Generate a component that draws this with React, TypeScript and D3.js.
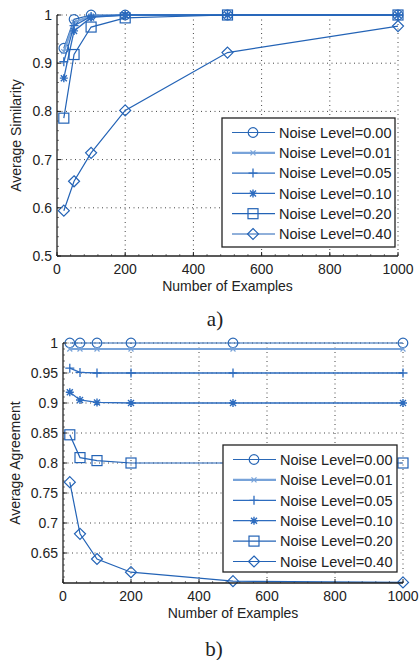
import React from 'react';
import * as d3 from 'd3';

// x values shared by both panels
const examples = [20, 50, 100, 200, 500, 1000];
const noiseLevels = ['0.00', '0.01', '0.05', '0.10', '0.20', '0.40'];

// panel a) average similarity
const sim000 = [0.931, 0.991, 1.0, 1.0, 1.0, 1.0];
const sim001 = [0.924, 0.985, 0.998, 1.0, 1.0, 1.0];
const sim005 = [0.903, 0.978, 0.997, 1.0, 1.0, 1.0];
const sim010 = [0.869, 0.967, 0.995, 1.0, 1.0, 1.0];
const sim020 = [0.786, 0.918, 0.975, 0.994, 1.0, 1.0];
const sim040 = [0.594, 0.655, 0.714, 0.802, 0.922, 0.977];

// panel b) average agreement
const agr000 = [1.0, 1.0, 1.0, 1.0, 1.0, 1.0];
const agr001 = [0.99, 0.99, 0.99, 0.99, 0.99, 0.99];
const agr005 = [0.958, 0.951, 0.95, 0.95, 0.95, 0.95];
const agr010 = [0.918, 0.905, 0.901, 0.9, 0.9, 0.9];
const agr020 = [0.847, 0.809, 0.804, 0.8, 0.8, 0.8];
const agr040 = [0.768, 0.682, 0.64, 0.618, 0.603, 0.601];

const xTicks = [0, 200, 400, 600, 800, 1000];
const simTicks = [0.5, 0.6, 0.7, 0.8, 0.9, 1];
const agrTicks = [0.65, 0.7, 0.75, 0.8, 0.85, 0.9, 0.95, 1];

const markers = ['circle', 'x', 'plus', 'star', 'square', 'diamond'];
const colors = ['#2a68b6', '#78a3d9', '#2d6cbf', '#2d6cbf', '#2363b6', '#2363b6'];
const widths = [1.2, 2.2, 1.3, 1.3, 1.2, 1.2];

const font = '"Liberation Sans", Arial, sans-serif';

function Marker(props) {
    var m = props.type, c = props.color, x = props.x, y = props.y;
    if (m === 'circle') return <circle cx={x} cy={y} r={4.8} fill="none" stroke={c} strokeWidth={1.2} />;
    if (m === 'square') return <rect x={x - 5} y={y - 5} width={10} height={10} fill="none" stroke={c} strokeWidth={1.2} />;
    if (m === 'diamond') return <path d={'M' + x + ',' + (y - 5.5) + 'L' + (x + 5.5) + ',' + y + 'L' + x + ',' + (y + 5.5) + 'L' + (x - 5.5) + ',' + y + 'Z'} fill="none" stroke={c} strokeWidth={1.2} />;
    if (m === 'plus') return <path d={'M' + (x - 4.5) + ',' + y + 'H' + (x + 4.5) + 'M' + x + ',' + (y - 4.5) + 'V' + (y + 4.5)} stroke={c} strokeWidth={1.3} />;
    if (m === 'x') return <path d={'M' + (x - 2.5) + ',' + (y - 2.5) + 'L' + (x + 2.5) + ',' + (y + 2.5) + 'M' + (x + 2.5) + ',' + (y - 2.5) + 'L' + (x - 2.5) + ',' + (y + 2.5)} stroke={c} strokeWidth={1.2} />;
    // star
    return <path d={'M' + (x - 4) + ',' + y + 'H' + (x + 4) + 'M' + x + ',' + (y - 4) + 'V' + (y + 4) + 'M' + (x - 3) + ',' + (y - 3) + 'L' + (x + 3) + ',' + (y + 3) + 'M' + (x + 3) + ',' + (y - 3) + 'L' + (x - 3) + ',' + (y + 3)} stroke={c} strokeWidth={1.4} />;
}

function Panel(props) {
    var x = d3.scaleLinear().domain([0, 1000]).range([props.left, props.right]);
    var y = d3.scaleLinear().domain(props.yDomain).range([props.bottom, props.top]);
    var line = d3.line().x(function (d) { return x(d[0]); }).y(function (d) { return y(d[1]); });
    var fmt = props.fmt;
    var minorX = d3.range(0, 1001, 40);
    var minorY = d3.range(props.yDomain[0], props.yDomain[1] + 1e-9, props.minorStep);
    var lg = props.legend;

    return (
        <g fontFamily={font} fill="#222">
            {/* grid */}
            {xTicks.filter(function (t) { return t > 0; }).map(function (t) {
                return <line key={'gx' + t} x1={x(t)} x2={x(t)} y1={props.top} y2={props.bottom} stroke="#444" strokeWidth={1} strokeDasharray="1,3.5" />;
            })}
            {props.yTicks.filter(function (t) { return t > props.yDomain[0]; }).map(function (t) {
                return <line key={'gy' + t} x1={props.left} x2={props.right} y1={y(t)} y2={y(t)} stroke="#444" strokeWidth={1} strokeDasharray="1,3.5" />;
            })}
            {/* minor ticks */}
            {minorX.map(function (t) {
                return <line key={'mx' + t} x1={x(t)} x2={x(t)} y1={props.bottom} y2={props.bottom - 2} stroke="#555" strokeWidth={0.8} />;
            })}
            {minorY.map(function (t, i) {
                return <line key={'my' + i} x1={props.left} x2={props.left + 2} y1={y(t)} y2={y(t)} stroke="#555" strokeWidth={0.8} />;
            })}
            {/* series */}
            {props.series.map(function (s, i) {
                var pts = examples.map(function (e, j) { return [e, s[j]]; });
                return (
                    <g key={'s' + i}>
                        <path d={line(pts)} fill="none" stroke={colors[i]} strokeWidth={widths[i]} />
                        {pts.map(function (p, j) {
                            return <Marker key={j} type={markers[i]} color={colors[i]} x={x(p[0])} y={y(p[1])} />;
                        })}
                    </g>
                );
            })}
            {/* axes */}
            <line x1={props.left} x2={props.right} y1={props.bottom} y2={props.bottom} stroke="#222" strokeWidth={1.3} />
            <line x1={props.left} x2={props.left} y1={props.top} y2={props.bottom} stroke="#222" strokeWidth={1.3} />
            {xTicks.map(function (t) {
                return (
                    <g key={'xt' + t}>
                        <line x1={x(t)} x2={x(t)} y1={props.bottom} y2={props.bottom - 4} stroke="#222" strokeWidth={1} />
                        <text x={x(t)} y={props.bottom + 18} textAnchor="middle" fontSize={14}>{t}</text>
                    </g>
                );
            })}
            {props.yTicks.map(function (t) {
                return (
                    <g key={'yt' + t}>
                        <line x1={props.left} x2={props.left + 4} y1={y(t)} y2={y(t)} stroke="#222" strokeWidth={1} />
                        <text x={props.left - 5} y={y(t) + 5} textAnchor="end" fontSize={14}>{fmt(t)}</text>
                    </g>
                );
            })}
            <text x={(props.left + props.right) / 2} y={props.bottom + 35} textAnchor="middle" fontSize={14}>Number of Examples</text>
            <text transform={'translate(' + props.yTitleX + ',' + (props.top + props.bottom) / 2 + ') rotate(-90)'} textAnchor="middle" fontSize={14}>{props.yTitle}</text>
            {/* legend */}
            <rect x={lg.x} y={lg.y} width={lg.w} height={lg.h} fill="#fff" stroke="#222" strokeWidth={1.3} />
            {noiseLevels.map(function (n, i) {
                var ry = lg.y + 14.5 + i * lg.step;
                return (
                    <g key={'lg' + i}>
                        <line x1={lg.x + 10} x2={lg.x + 53} y1={ry} y2={ry} stroke={colors[i]} strokeWidth={widths[i]} />
                        <Marker type={markers[i]} color={colors[i]} x={lg.x + 31} y={ry} />
                        <text x={lg.x + 57} y={ry + 5.2} fontSize={14.5}>{'Noise Level=' + n}</text>
                    </g>
                );
            })}
        </g>
    );
}

export default function App() {
    return (
        <div style={{ position: 'absolute', left: 0, top: 0 }}>
            <svg width={419} height={660} style={{ display: 'block', background: '#fff' }}>
                <Panel left={57} right={398} top={15} bottom={256} yDomain={[0.5, 1]} yTicks={simTicks}
                    minorStep={0.02} fmt={function (t) { return String(+t.toFixed(2)); }}
                    series={[sim000, sim001, sim005, sim010, sim020, sim040]}
                    yTitle="Average Similarity" yTitleX={21}
                    legend={{ x: 222, y: 118, w: 173, h: 129, step: 20.3 }} />
                <text x={215} y={326} textAnchor="middle" fontFamily='"Liberation Serif", "Times New Roman", serif' fontSize={21} fill="#222">a)</text>
                <Panel left={63} right={403} top={343} bottom={583} yDomain={[0.6, 1]} yTicks={agrTicks}
                    minorStep={0.01} fmt={function (t) { return String(+t.toFixed(2)); }}
                    series={[agr000, agr001, agr005, agr010, agr020, agr040]}
                    yTitle="Average Agreement" yTitleX={20}
                    legend={{ x: 223, y: 445, w: 174, h: 127, step: 20.4 }} />
                <text x={214} y={656} textAnchor="middle" fontFamily='"Liberation Serif", "Times New Roman", serif' fontSize={21} fill="#222">b)</text>
            </svg>
        </div>
    );
}
